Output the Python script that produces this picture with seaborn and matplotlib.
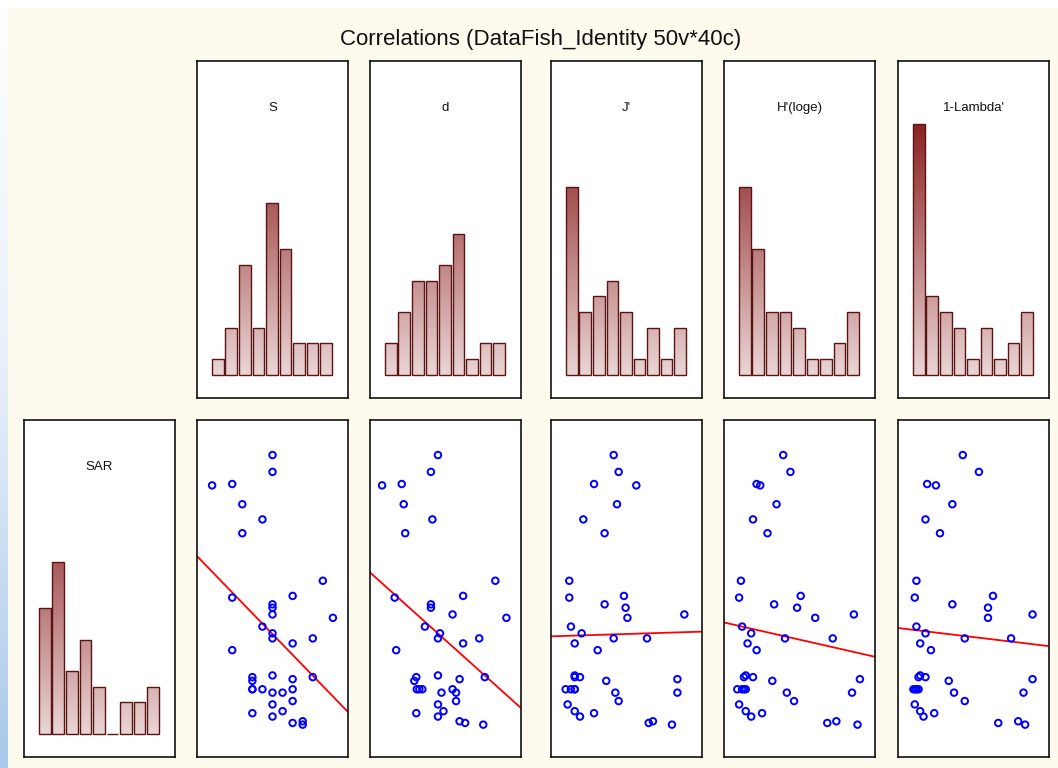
import numpy as np
import matplotlib
matplotlib.use("Agg")
import matplotlib.pyplot as plt
from matplotlib.colors import LinearSegmentedColormap
from matplotlib.patches import Rectangle
import seaborn as sns

# values of the 39 cases (top of the scatter = high SAR)
sar = [89.6, 84.6, 81.0, 80.6, 75.0, 70.5, 66.4, 52.3, 47.8, 47.3,
       45.3, 44.3, 42.3, 41.3, 38.7, 36.7, 35.2, 35.2, 33.7, 31.7,
       24.2, 23.7, 23.7, 23.1, 22.6, 20.1, 20.1, 20.1, 20.1, 19.1,
       19.1, 16.6, 15.6, 13.6, 13.0, 12.0, 10.6, 10.1, 9.6]
s_vals = [9, 9, 5, 3, 6, 8, 6, 14, 11, 5,
          9, 9, 9, 15, 8, 9, 9, 13, 11, 5,
          9, 7, 13, 11, 7, 7, 7, 8, 11, 9,
          10, 11, 9, 10, 7, 9, 12, 11, 12]
d_vals = [1.35, 1.21, 0.63, 0.24, 0.67, 1.24, 0.70, 2.49, 1.85, 0.49,
          1.21, 1.21, 1.64, 2.71, 1.09, 1.39, 1.35, 2.17, 1.85, 0.52,
          1.35, 0.92, 2.28, 1.78, 0.88, 0.93, 0.98, 1.04, 1.64, 1.42,
          1.71, 1.71, 1.35, 1.46, 0.92, 1.35, 1.78, 1.89, 2.25]
j_vals = [0.415, 0.448, 0.285, 0.565, 0.437, 0.214, 0.355, 0.121, 0.483, 0.121,
          0.355, 0.494, 0.883, 0.506, 0.132, 0.203, 0.415, 0.636, 0.157, 0.309,
          0.157, 0.157, 0.192, 0.837, 0.366, 0.097, 0.132, 0.157, 0.157, 0.426,
          0.837, 0.448, 0.110, 0.157, 0.285, 0.192, 0.675, 0.647, 0.801]
h_vals = [0.98, 1.10, 0.54, 0.60, 0.87, 0.48, 0.72, 0.28, 1.27, 0.25,
          0.83, 1.21, 2.15, 1.51, 0.30, 0.45, 1.01, 1.80, 0.39, 0.54,
          0.36, 0.33, 0.48, 2.25, 0.80, 0.22, 0.30, 0.33, 0.36, 1.04,
          2.12, 1.16, 0.25, 0.36, 0.63, 0.45, 1.86, 1.71, 2.21]
l_vals = [0.429, 0.536, 0.193, 0.251, 0.360, 0.182, 0.278, 0.122, 0.629, 0.111,
          0.360, 0.596, 0.891, 0.596, 0.122, 0.182, 0.442, 0.749, 0.147, 0.218,
          0.147, 0.136, 0.182, 0.891, 0.336, 0.102, 0.113, 0.124, 0.136, 0.371,
          0.831, 0.442, 0.111, 0.147, 0.240, 0.169, 0.796, 0.664, 0.842]

# histogram counts (9 bins each)
s_hist = [1, 3, 7, 3, 11, 8, 2, 2, 2]
d_hist = [2, 4, 6, 6, 7, 9, 1, 2, 2]
j_hist = [12, 4, 5, 6, 4, 1, 3, 1, 3]
h_hist = [12, 8, 4, 4, 3, 1, 1, 2, 4]
l_hist = [16, 5, 4, 3, 1, 3, 1, 2, 4]
sar_hist = [8, 11, 4, 6, 3, 0, 2, 2, 3]

labels = ["S", "d", "J'", "H'(loge)", "1-Lambda'"]

W, H = 1058, 768
BG = "#FFFAEE"
EDGE = "#5A1414"
bar_cmap = LinearSegmentedColormap.from_list("bars", ["#EAD5D5", "#8C2222"])

sns.set_theme(style="white")
plt.rcParams["font.family"] = ["Liberation Sans", "DejaVu Sans"]

fig = plt.figure(figsize=(W / 100, H / 100), dpi=100)
fig.patch.set_facecolor("white")
fig.add_artist(Rectangle((8 / W, 0), 1, 1 - 8 / H, transform=fig.transFigure,
                         facecolor=BG, edgecolor="none", zorder=-10))

# bluish strip on the left edge
strip = fig.add_axes([0, 0, 8 / W, 1])
strip_cmap = LinearSegmentedColormap.from_list("strip", ["white", "#E6EFF9", "#A9C8EA"])
strip.imshow(np.linspace(0, 1, 256).reshape(-1, 1), cmap=strip_cmap, aspect="auto",
             extent=[0, 1, 0, 1], origin="upper")
strip.set_axis_off()


def panel(left, top, w=151, h=337):
    ax = fig.add_axes([left / W, 1 - (top + h) / H, w / W, h / H])
    ax.set_facecolor("white")
    for sp in ax.spines.values():
        sp.set_visible(True)
        sp.set_linewidth(1.2)
        sp.set_color("#111111")
    return ax


def finish(ax):
    ax.set_xticks([])
    ax.set_yticks([])
    ax.set_xlabel("")
    ax.set_ylabel("")


def draw_hist(ax, counts, label):
    sns.barplot(x=list(range(len(counts))), y=counts, ax=ax, fill=False, color=EDGE,
                saturation=1, width=0.88, linewidth=1.0, errorbar=None)
    grad = np.linspace(0, 16, 256).reshape(-1, 1)
    bars = list(ax.patches)
    for bar in bars:
        bar.set_zorder(2)
        x0, w = bar.get_x(), bar.get_width()
        im = ax.imshow(grad, cmap=bar_cmap, vmin=0, vmax=16, extent=[x0, x0 + w, 0, 16],
                       origin="lower", aspect="auto", zorder=1.5)
        im.set_clip_path(bar)
    ax.set_xlim(-1.55, 9.63)
    ax.set_ylim(-1.5, 20.05)
    ax.text(0.5, 0.862, label, transform=ax.transAxes, ha="center", va="center",
            fontsize=9.5, color="#111111")
    finish(ax)


def draw_scatter(ax, xvals, xlim):
    ax.set_xlim(*xlim)
    ax.set_ylim(0, 100)
    sns.regplot(x=xvals, y=sar, ax=ax, scatter=False, ci=None, truncate=False,
                color="#FF0000", line_kws={"linewidth": 1.3})
    sns.scatterplot(x=xvals, y=sar, ax=ax, s=22, facecolor="none", edgecolor="#0000FF",
                    linewidth=1.4, legend=False, zorder=3)
    ax.set_xlim(*xlim)
    ax.set_ylim(0, 100)
    finish(ax)


lefts = [197, 370, 551, 724, 898]
hists = [s_hist, d_hist, j_hist, h_hist, l_hist]
xs = [s_vals, d_vals, j_vals, h_vals, l_vals]
xlims = [(1.5, 16.5), (0, 3.0), (0, 1.0), (0, 2.5), (0, 1.0)]

for left, counts, lab in zip(lefts, hists, labels):
    draw_hist(panel(left, 61), counts, lab)

draw_hist(panel(24, 420), sar_hist, "SAR")

for left, xv, lim in zip(lefts, xs, xlims):
    draw_scatter(panel(left, 420), xv, lim)

fig.text(541 / W, 1 - 39.5 / H, "Correlations (DataFish_Identity 50v*40c)",
         ha="center", va="center", fontsize=16, color="#111111")

fig.savefig("out.png", dpi=100, facecolor=fig.get_facecolor())
